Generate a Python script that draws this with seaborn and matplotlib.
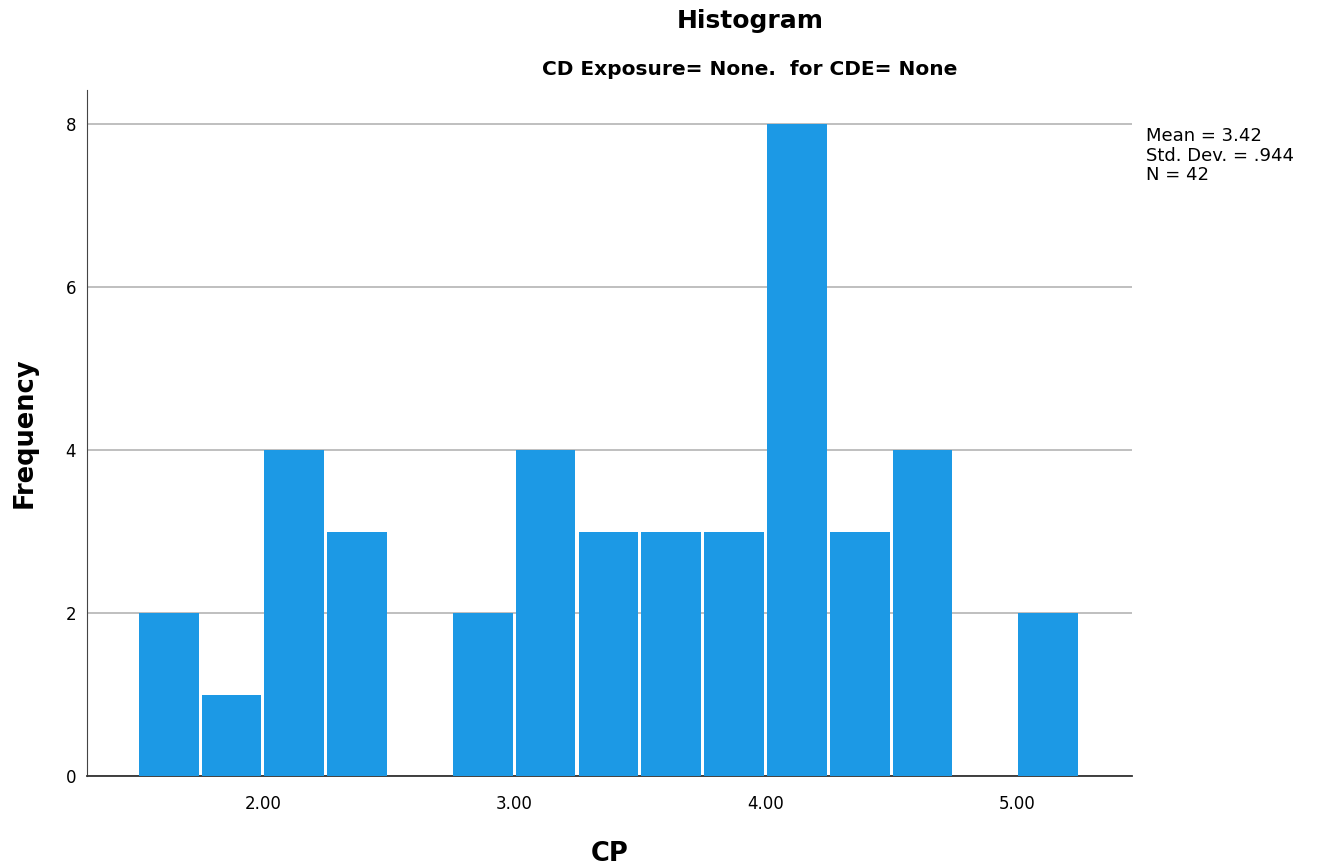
import numpy as np
import matplotlib
matplotlib.use("Agg")
import matplotlib.pyplot as plt
import seaborn as sns

sns.set_style("white")
plt.rcParams['font.family'] = ['DejaVu Sans']
plt.rcParams['text.color'] = 'black'
plt.rcParams['axes.labelcolor'] = 'black'
plt.rcParams['xtick.color'] = 'black'
plt.rcParams['ytick.color'] = 'black'

# histogram bins (CP) and counts
bin_edges = [1.50, 1.75, 2.00, 2.25, 2.50, 2.75, 3.00, 3.25, 3.50,
             3.75, 4.00, 4.25, 4.50, 4.75, 5.00, 5.25]
counts = [2, 1, 4, 3, 0, 2, 4, 3, 3, 3, 8, 3, 4, 0, 2]
x_ticks = [2.0, 3.0, 4.0, 5.0]
y_ticks = [0, 2, 4, 6, 8]
stats_text = "Mean = 3.42\nStd. Dev. = .944\nN = 42"

edges = np.array(bin_edges)
centers = (edges[:-1] + edges[1:]) / 2

fig = plt.figure(figsize=(13.2, 8.67), dpi=100)
ax = fig.add_axes([0.0659, 0.105, 0.792, 0.791])

sns.histplot(x=centers, weights=counts, bins=bin_edges, ax=ax,
             color="#1c99e5", alpha=1, linewidth=0, shrink=0.95,
             zorder=3)

ax.set_xlim(1.30, 5.46)
ax.set_ylim(0, 8.42)
ax.set_xticks(x_ticks)
ax.set_xticklabels([f"{t:.2f}" for t in x_ticks])
ax.set_yticks(y_ticks)
ax.yaxis.grid(True, color="#b4b4b4", linewidth=1.2, zorder=0)
ax.set_axisbelow(True)

for s in ["top", "right"]:
    ax.spines[s].set_visible(False)
ax.spines["left"].set_color("#444444")
ax.spines["bottom"].set_color("#333333")
ax.spines["bottom"].set_linewidth(1.3)
ax.tick_params(axis="both", labelsize=12, length=0, pad=8)
ax.tick_params(axis="x", pad=14)

ax.set_xlabel("CP", fontsize=18.5, fontweight="bold", labelpad=20)
ax.set_ylabel("Frequency", fontsize=18.5, fontweight="bold", labelpad=20)

fig.text(0.568, 0.976, "Histogram", ha="center", va="center",
         fontsize=18, fontweight="bold")
fig.text(0.568, 0.920, "CD Exposure= None.  for CDE= None", ha="center",
         va="center", fontsize=14.5, fontweight="bold")
fig.text(0.868, 0.853, stats_text, ha="left", va="top", fontsize=13,
         linespacing=1.08)

fig.savefig("out.png", dpi=100)
plt.close(fig)
